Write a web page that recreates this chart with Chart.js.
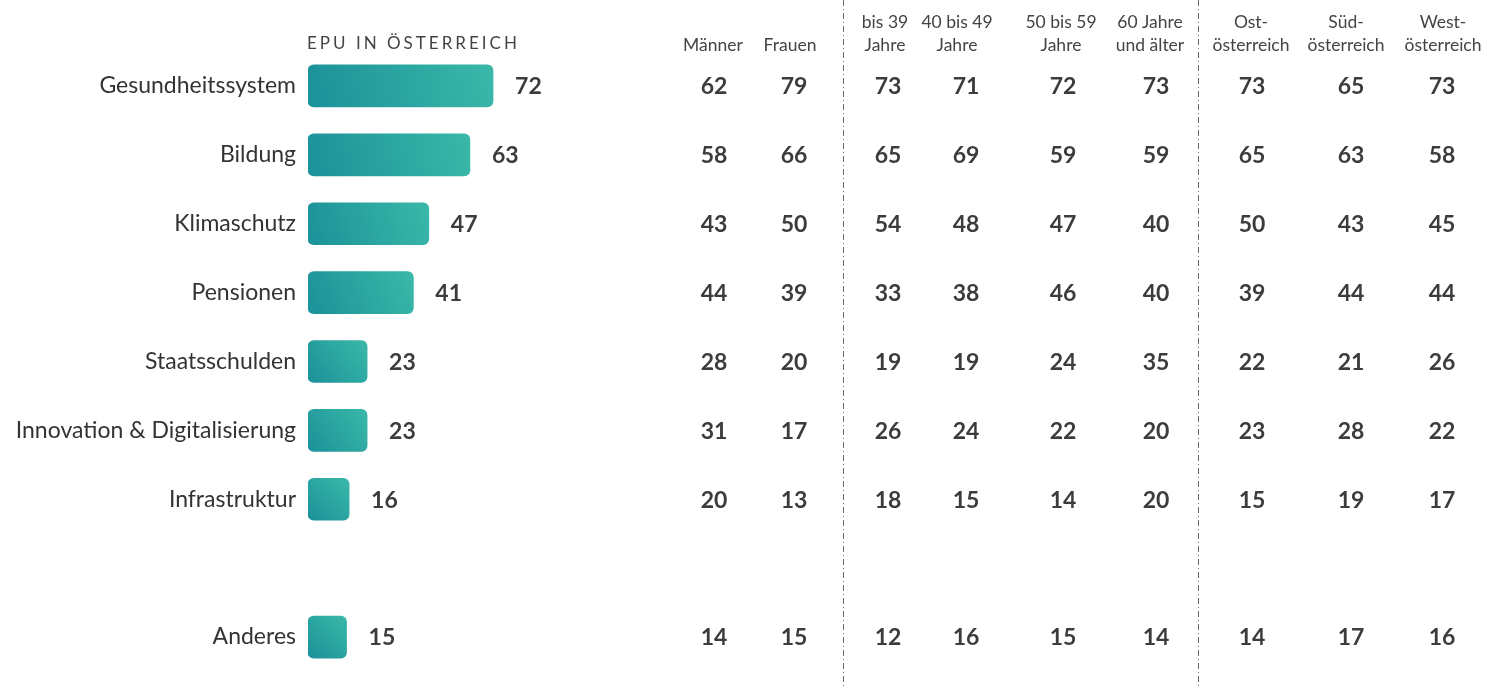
<!DOCTYPE html>
<html>
<head>
<meta charset="utf-8">
<script src="https://cdn.jsdelivr.net/npm/chart.js@4/dist/chart.umd.min.js"></script>
<style>
  html, body { margin: 0; padding: 0; background: #fff; }
  #wrap { width: 1486px; height: 688px; }
</style>
</head>
<body>
<div id="wrap"><canvas id="myChart" width="1486" height="688"></canvas></div>
<script>
// themes (empty slot before "Anderes")
var categories = ['Gesundheitssystem', 'Bildung', 'Klimaschutz', 'Pensionen', 'Staatsschulden',
  'Innovation & Digitalisierung', 'Infrastruktur', '', 'Anderes'];
var epuValues = [72, 63, 47, 41, 23, 23, 16, null, 15];

// breakdown columns
var groupHeaders = [['Männer'], ['Frauen'], ['bis 39', 'Jahre'], ['40 bis 49', 'Jahre'], ['50 bis 59', 'Jahre'],
  ['60 Jahre', 'und älter'], ['Ost-', 'österreich'], ['Süd-', 'österreich'], ['West-', 'österreich']];
var maenner  = [62, 58, 43, 44, 28, 31, 20, null, 14];
var frauen   = [79, 66, 50, 39, 20, 17, 13, null, 15];
var bis39    = [73, 65, 54, 33, 19, 26, 18, null, 12];
var bis49    = [71, 69, 48, 38, 19, 24, 15, null, 16];
var bis59    = [72, 59, 47, 46, 24, 22, 14, null, 15];
var ab60     = [73, 59, 40, 40, 35, 20, 20, null, 14];
var ost      = [73, 65, 50, 39, 22, 23, 15, null, 14];
var sued     = [65, 63, 43, 44, 21, 28, 19, null, 17];
var west     = [73, 58, 45, 44, 26, 22, 17, null, 16];
var groupValues = [maenner, frauen, bis39, bis49, bis59, ab60, ost, sued, west];

var chartTitle = 'EPU IN ÖSTERREICH';

// layout
var colX = [714, 794, 888, 966, 1063, 1156, 1252, 1351, 1442];
var headX = [713, 790, 885, 957, 1061, 1150, 1251, 1346, 1443];
var dividerX = [843, 1198];
var FONT = 'Lato, "Open Sans", sans-serif';
var TEXT = '#3c3c3c';

function barGradient(c) {
  var chart = c.chart;
  var xs = chart.scales.x, ys = chart.scales.y;
  if (!xs || !ys || !chart.chartArea || c.raw == null) return '#2aa59f';
  var x0 = xs.getPixelForValue(0), x1 = xs.getPixelForValue(c.raw);
  var yc = ys.getPixelForValue(c.dataIndex);
  var g = chart.ctx.createLinearGradient(x0, yc + 21, x1, yc - 21);
  g.addColorStop(0, '#1b9199');
  g.addColorStop(1, '#3ab8a8');
  return g;
}

var tablePlugin = {
  id: 'tablePlugin',
  afterDatasetsDraw: function(chart) {
    var ctx = chart.ctx, xs = chart.scales.x, ys = chart.scales.y;
    ctx.save();

    // dividers
    ctx.strokeStyle = '#6a6a6a';
    ctx.lineWidth = 1;
    ctx.setLineDash([6, 3, 1, 3]);
    dividerX.forEach(function(x) {
      ctx.beginPath();
      ctx.moveTo(x + 0.5, 0);
      ctx.lineTo(x + 0.5, chart.height);
      ctx.stroke();
    });
    ctx.setLineDash([]);

    // title
    ctx.fillStyle = '#444';
    ctx.font = '17px ' + FONT;
    ctx.textAlign = 'left';
    ctx.textBaseline = 'middle';
    ctx.letterSpacing = '3px';
    ctx.fillText(chartTitle, 307, 44);
    ctx.letterSpacing = '0px';

    // headers
    ctx.font = '17.5px ' + FONT;
    ctx.textAlign = 'center';
    groupHeaders.forEach(function(lines, i) {
      if (lines.length === 1) {
        ctx.fillText(lines[0], headX[i], 45);
      } else {
        ctx.fillText(lines[0], headX[i], 22);
        ctx.fillText(lines[1], headX[i], 45);
      }
    });

    // bar values
    ctx.fillStyle = TEXT;
    ctx.font = 'bold 23px ' + FONT;
    ctx.textAlign = 'left';
    epuValues.forEach(function(v, i) {
      if (v == null) return;
      ctx.fillText(v, xs.getPixelForValue(v) + 22, ys.getPixelForValue(i) + 1);
    });

    // table cells
    ctx.textAlign = 'center';
    groupValues.forEach(function(col, j) {
      col.forEach(function(v, i) {
        if (v == null) return;
        ctx.fillText(v, colX[j], ys.getPixelForValue(i) + 1);
      });
    });
    ctx.restore();
  }
};

var ctx = document.getElementById('myChart');
var myChart = new Chart(ctx, {
  type: 'bar',
  data: {
    labels: categories,
    datasets: [{
      data: epuValues,
      backgroundColor: barGradient,
      borderRadius: 6,
      borderSkipped: false,
      barThickness: 42
    }]
  },
  options: {
    indexAxis: 'y',
    responsive: false,
    animation: false,
    layout: { padding: { left: 0, right: 921, top: 51.5, bottom: 16.5 } },
    plugins: { legend: { display: false }, tooltip: { enabled: false } },
    scales: {
      x: { display: false, min: 0, max: 100 },
      y: {
        grid: { display: false },
        border: { display: false },
        afterFit: function(scale) {
          scale.width = 308;
          scale.paddingTop = 0;
          scale.paddingBottom = 0;
        },
        ticks: {
          padding: 4,
          color: '#333',
          font: { family: FONT, size: 23 }
        }
      }
    }
  },
  plugins: [tablePlugin]
});
</script>
</body>
</html>
